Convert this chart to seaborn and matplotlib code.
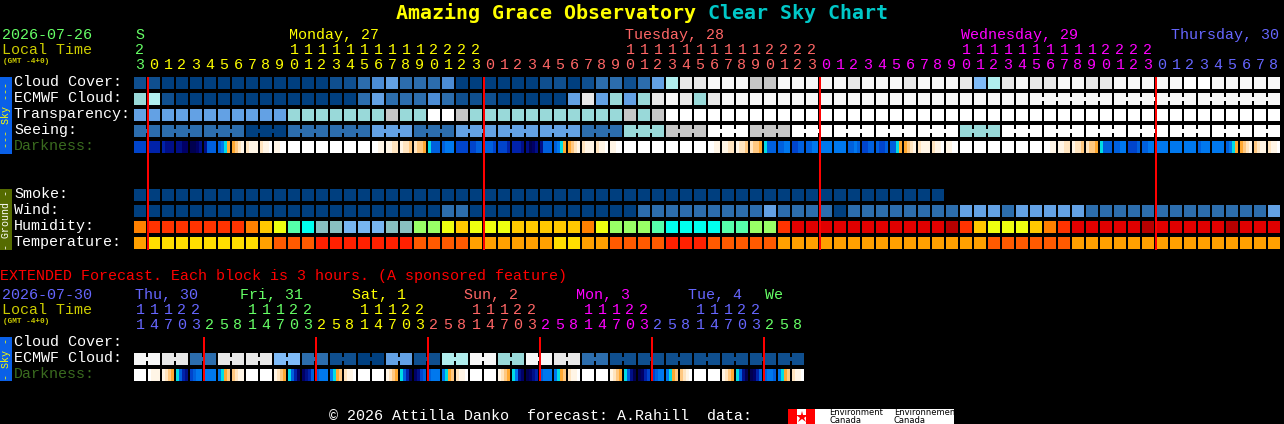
import numpy as np
import matplotlib
matplotlib.use('Agg')
import matplotlib.pyplot as plt
from matplotlib.colors import ListedColormap
from matplotlib.patches import Rectangle
import seaborn as sns

# colours of the blocks
cloud_colors = ['#003F7F', '#0F4F8F', '#2C6DAD', '#4C8CD4', '#63A1E4', '#7FBBF7',
                '#99D9D9', '#B0EEEE', '#C6C6C6', '#E8E8E8', '#F7F7F7', '#FFFFFF']
humidity_colors = ['#B80000', '#E00000', '#FF3300', '#FF8000', '#FFC800', '#EEFF10',
                   '#99FF66', '#55FFAA', '#00FFEE', '#88C0C0', '#77B5F0']
temperature_colors = ['#FF2000', '#FF5A00', '#FFA000', '#FFDE00']
darkness_letters = 'abcdefghijklm'
darkness_colors = ['#FFFFFF', '#FFF5E6', '#FFE4BF', '#FFC880', '#FFA830', '#00DDE5', '#0078EE',
                   '#0060DD', '#0044CC', '#0022AA', '#000F88', '#000066', '#00004F']

# hourly forecast, 82 columns
cloud_cover = [1, 1, 0, 0, 0, 0, 0, 0, 0, 0, 0, 0, 0, 0, 1, 1, 2, 3, 4, 2, 2, 2, 3, 0, 0, 0, 0, 0, 0, 1,
               1, 0, 1, 2, 2, 1, 2, 4, 7, 9, 9, 10, 10, 10, 8, 8, 10, 10, 10, 10, 10, 9, 10, 10, 10, 9,
               10, 10, 10, 9, 5, 7, 9, 10, 9, 9, 10, 10, 9, 9, 10, 10, 10, 10, 10, 11, 11, 10, 10, 10, 10, 10]
ecmwf_cloud = [6, 7, 1, 0, 0, 0, 0, 0, 0, 0, 0, 0, 0, 0, 0, 0, 2, 4, 2, 2, 2, 3, 2, 1, 1, 1, 0, 0, 0, 0,
               0, 4, 9, 4, 6, 4, 6, 9, 10, 9, 6, 9, 10, 10, 10, 10, 10, 10, 10, 10, 10, 10, 10, 10, 10, 10,
               10, 10, 10, 10, 10, 10, 10, 10, 10, 10, 10, 10, 10, 10, 10, 10, 10, 10, 10, 10, 10, 10, 10, 10, 10, 10]
transparency = [4, 4, 4, 4, 4, 4, 4, 4, 4, 4, 4, 6, 6, 6, 6, 6, 6, 6, 8, 6, 6, 11, 11, 8, 6, 6, 6, 6, 6, 6,
                6, 6, 6, 6, 6, 8, 6, 8] + [11] * 44
seeing_groups = [2, 2, 2, 0, 2, 2, 4, 2, 4, 4, 4, 2, 6, 8, 11, 8, 11, 11, 11, 11, 6,
                 11, 11, 11, 11, 11, 11, 11]
smoke = [0] * 58
wind = [0] * 22 + [2, 2] + [0] * 12 + [2] * 9 + [4, 2, 2, 2, 2, 0, 2] + [2] * 7 + [4, 4, 4, 2, 4, 4, 4, 4, 4] + [2] * 13 + [4]
humidity = [3, 2, 2, 2, 2, 2, 2, 2, 3, 4, 5, 7, 8, 9, 9, 10, 10, 10, 9, 9, 6, 6, 5, 4, 5, 5, 5, 4, 4, 4,
            4, 4, 3, 5, 6, 6, 6, 7, 8, 8, 8, 8, 7, 7, 6, 6, 2, 1, 1, 1, 1, 1, 1, 1, 1, 1, 1, 1, 0, 2,
            4, 5, 5, 5, 4, 3, 2, 1, 1, 1, 1, 1, 0, 1, 1, 1, 1, 1, 0, 1, 1, 1]
temperature = [2, 3, 3, 3, 3, 3, 3, 3, 3, 2, 1, 1, 1, 0, 0, 0, 0, 0, 0, 0, 1, 1, 1, 1, 2, 2, 2, 2, 2, 2,
               3, 3, 2, 2, 1, 1, 1, 1, 0, 0, 0, 1, 1, 1, 1, 1, 2, 2, 2, 2, 2, 2, 2, 2, 2, 2, 2, 2, 2, 2,
               2, 1, 1, 1, 1, 1, 1, 2, 2, 2, 2, 2, 2, 2, 2, 2, 2, 2, 2, 2, 2, 2]
darkness = ('iiii jjjj jkkk kkll mmlk khhh hgfe edcb cbbb cbba bbaa aaaa aaaa aaaa aaaa aaaa aaaa aabb '
            'bbcc bccd cdde fhhh hggg iiii iihh hhhi iiij jjjk kmlk khhh hgfe edcb cbbb cbba bbaa aaaa '
            'aaaa aaaa aaaa aaaa aaaa aabb bbcc bccd cdde fhhh hhgg iihh hhgg gggg gggg hhgh iihh hiih '
            'hhfe edcb cbbb cbba bbaa aaaa aaaa aaaa aaaa aaaa aaaa aabb bbcc bccd cdde fhhh hhgg iiih '
            'hhgg gggg gggg gggg hggg gggg hgfe edcb dcbb cbba').split()

# extended forecast, 48 columns
ext_ecmwf_pairs = [10, 9, 2, 9, 9, 5, 2, 1, 0, 4, 1, 7, 10, 6, 10, 9, 2, 1, 1, 1, 1, 1, 1, 1]
ext_darkness = ('aaaa abbb bcde fhjk ihgg gggg gfed dcbb aaaa aaaa bcde fhjl lkjh hggg gfed cbba aaaa aaaa '
                'bcde fhjm lkih hggg gfed cbba aaaa aaaa bcde fgkl mlkj hggg gfed cbba aaaa aaaa bcde fhkm '
                'mlji ihgg gfed dcba aaaa aaaa bcde fhkm mljh hggh gfed cbba').split()

# axis labels
main_hours = [23] + list(range(24)) * 3 + list(range(9))
main_day_counts = [1, 24, 24, 24, 9]
main_day_colors = ['#66FF66', '#FFFF00', '#FF6666', '#FF00FF', '#6666FF']
main_day_names = ['S', 'Monday, 27', 'Tuesday, 28', 'Wednesday, 29', 'Thursday, 30']
main_day_cols = [0, 11, 35, 59, 74]
main_midnights = [1, 25, 49, 73]
ext_hours = [11, 14, 17, 20, 23] + [2, 5, 8, 11, 14, 17, 20, 23] * 5 + [2, 5, 8]
ext_day_counts = [5, 8, 8, 8, 8, 8, 3]
ext_day_colors = ['#6666FF', '#66FF66', '#FFFF00', '#FF6666', '#FF00FF', '#6666FF', '#66FF66']
ext_day_names = ['Thu, 30', 'Fri, 31', 'Sat, 1', 'Sun, 2', 'Mon, 3', 'Tue, 4', 'We']
ext_day_cols = [0, 7.5, 15.5, 23.5, 31.5, 39.5, 45]
ext_midnights = [5, 13, 21, 29, 37, 45]

W, H = 1284, 424
LEFT = 134
PITCH = 14
MONO = 'Liberation Mono'

sns.set_style('dark')
fig = plt.figure(figsize=(W / 100, H / 100), dpi=100, facecolor='black')


def col_x(col):
    return LEFT + PITCH * col


def block_axes(left, top, width, height):
    ax = fig.add_axes([left / W, 1 - (top + height) / H, width / W, height / H])
    ax.set_facecolor('black')
    return ax


def draw_row(values, colors, top):
    # one heatmap per row, the 2px black lines make the gaps between the blocks
    ax = block_axes(LEFT - 1, top - 1, PITCH * len(values), 14)
    sns.heatmap(np.array([values], dtype=float), ax=ax, cmap=ListedColormap(colors),
                vmin=-0.5, vmax=len(colors) - 0.5, cbar=False, xticklabels=False, yticklabels=False,
                linewidths=1.44, linecolor='black')


def draw_darkness(cells, top):
    # every letter covers 3 pixels of a block, the last 2 pixels stay empty
    rows = []
    for cell in cells:
        rows += [darkness_letters.index(ch) for ch in cell for _ in range(3)]
        rows += [np.nan, np.nan]
    ax = block_axes(LEFT, top, PITCH * len(cells), 12)
    sns.heatmap(np.array([rows]), ax=ax, cmap=ListedColormap(darkness_colors), vmin=-0.5,
                vmax=len(darkness_colors) - 0.5, cbar=False, xticklabels=False, yticklabels=False)


rows_main = [(cloud_cover, cloud_colors, 77), (ecmwf_cloud, cloud_colors, 93), (transparency, cloud_colors, 109),
             (np.repeat(seeing_groups, 3)[1:-1], cloud_colors, 125), (smoke, cloud_colors, 189), (wind, cloud_colors, 205),
             (humidity, humidity_colors, 221), (temperature, temperature_colors, 237)]
for values, colors, top in rows_main:
    draw_row(list(values), colors, top)
draw_row(list(np.repeat(ext_ecmwf_pairs, 2)), cloud_colors, 353)
draw_darkness(darkness, 141)
draw_darkness(ext_darkness, 369)

# everything else is drawn in pixel coordinates on top of the heatmaps
ax = fig.add_axes([0, 0, 1, 1], zorder=5)
ax.set_xlim(0, W)
ax.set_ylim(H, 0)
ax.axis('off')


def put(x, y, s, color='white', size=10.8, ha='left', weight='normal', rotation=0, va='baseline', family=MONO):
    ax.text(x, y, s, color=color, fontsize=size, ha=ha, va=va, fontweight=weight, rotation=rotation,
            family=family)


def connect(first, count, value, top):
    # small bridge between blocks that belong to one forecast step
    for col in range(first, first + count - 1):
        ax.add_patch(Rectangle((col_x(col) + 12, top + 4), 2, 4, color=cloud_colors[value], lw=0, antialiased=False))


connect(0, 2, seeing_groups[0], 125)
for i, value in enumerate(seeing_groups[1:]):
    connect(2 + 3 * i, 3 if i < 26 else 2, value, 125)
for first in [64, 70, 76]:
    connect(first, 6, ecmwf_cloud[first], 93)
for i, value in enumerate(ext_ecmwf_pairs):
    connect(2 * i, 2, value, 353)

for col in main_midnights:
    ax.plot([col_x(col)] * 2, [77, 250], color='#FF0000', lw=1.44, solid_capstyle='butt')
for col in ext_midnights:
    ax.plot([col_x(col)] * 2, [337, 381], color='#FF0000', lw=1.44, solid_capstyle='butt')

# title
put(396, 19, 'Amazing Grace Observatory', '#FFFF00', 14.4, weight='bold', family='DejaVu Sans Mono')
put(708, 19, 'Clear Sky Chart', '#00C8C8', 14.4, weight='bold', family='DejaVu Sans Mono')

# time header


def draw_hours(hours, counts, colors, tens_y, ones_y):
    col = 0
    for count, color in zip(counts, colors):
        for hour in hours[col:col + count]:
            if hour >= 10:
                put(col_x(col) + 6, tens_y, str(hour // 10), color, ha='center')
            put(col_x(col) + 6, ones_y, str(hour % 10), color, ha='center')
            col += 1


put(2, 39, '2026-07-26', '#66FF66')
put(2, 54, 'Local Time', '#CCCC00')
put(3, 63, '(GMT -4+0)', '#CCCC00', 5.6, weight='bold')
for name, col, color in zip(main_day_names, main_day_cols, main_day_colors):
    put(col_x(col) + 1, 39, name, color)
draw_hours(main_hours, main_day_counts, main_day_colors, 54, 69)

put(2, 299, '2026-07-30', '#6666FF')
put(2, 314, 'Local Time', '#CCCC00')
put(3, 323, '(GMT -4+0)', '#CCCC00', 5.6, weight='bold')
for name, col, color in zip(ext_day_names, ext_day_cols, ext_day_colors):
    put(col_x(col) + 1, 299, name, color)
draw_hours(ext_hours, ext_day_counts, ext_day_colors, 314, 329)

# row labels
for label, top in [('Cloud Cover:', 77), ('ECMWF Cloud:', 93), ('Transparency:', 109), ('Seeing:', 125),
                   ('Smoke:', 189), ('Wind:', 205), ('Humidity:', 221), ('Temperature:', 237),
                   ('Cloud Cover:', 337), ('ECMWF Cloud:', 353)]:
    put(14, top + 9, label)
put(14, 150, 'Darkness:', '#3A6B1F')
put(14, 378, 'Darkness:', '#3A6B1F')

# side bars
for top, bottom, bar_color, text_color, label in [(77, 154, '#0A60E8', '#FFFF00', '--- Sky ---'),
                                                  (189, 250, '#556B00', '#FFFFFF', '- Ground -'),
                                                  (337, 381, '#0A60E8', '#FFFF00', '- Sky -')]:
    ax.add_patch(Rectangle((0, top), 12, bottom - top, color=bar_color, lw=0))
    put(6, (top + bottom) / 2, label, text_color, 7.2, ha='center', rotation=90, va='center')

put(0, 280, 'EXTENDED Forecast. Each block is 3 hours. (A sponsored feature)', '#FF0000')
put(329, 420, '\u00a9 2026 Attilla Danko  forecast: A.Rahill  data:')

# Environment Canada logo
ax.add_patch(Rectangle((788, 409), 166, 15, color='white', lw=0))
ax.add_patch(Rectangle((788, 409), 9, 15, color='#FF0000', lw=0))
ax.add_patch(Rectangle((806, 409), 9, 15, color='#FF0000', lw=0))
ax.plot([801.5], [416.5], marker='*', color='#FF0000', ms=9, mew=0)
for x, word in [(829, 'Environment'), (894, 'Environnement')]:
    put(x, 415, word, 'black', 6.0, family='DejaVu Sans')
    put(x, 423, 'Canada', 'black', 6.0, family='DejaVu Sans')

fig.savefig('out.png', dpi=100, facecolor='black')
